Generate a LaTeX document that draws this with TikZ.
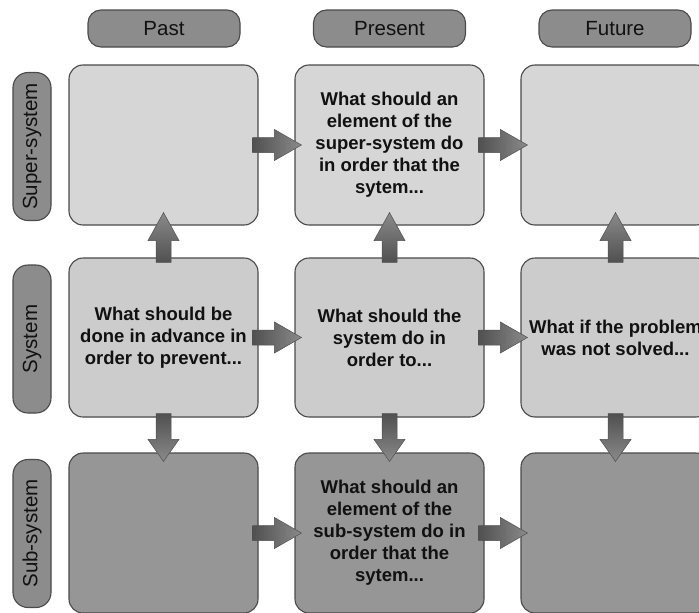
\documentclass[tikz,border=0pt]{standalone}
\usepackage{fontspec}
\setmainfont{Liberation Sans}
\usetikzlibrary{calc}
\definecolor{rowA}{HTML}{D6D6D6}
\definecolor{rowB}{HTML}{CCCCCC}
\definecolor{rowC}{HTML}{969696}
\definecolor{pill}{HTML}{8C8C8C}
\definecolor{edge}{HTML}{4A4A4A}
\definecolor{arrdark}{HTML}{505050}
\definecolor{arrlite}{HTML}{8A8A8A}
\definecolor{ink}{HTML}{111111}
\tikzset{
  cell/.style={draw=edge, line width=1.1pt, rounded corners=14pt, minimum width=189pt, minimum height=160pt, align=center, text=ink, font=\fontsize{18.5}{22}\selectfont\bfseries},
  head/.style={draw=edge, line width=1.1pt, fill=pill, rounded corners=13pt, minimum width=152pt, minimum height=37pt, text=ink, font=\fontsize{20.5}{24}\selectfont},
  side/.style={draw=edge, line width=1.1pt, fill=pill, rounded corners=15pt, minimum width=148pt, minimum height=38pt, rotate=90, text=ink, font=\fontsize{20.5}{24}\selectfont},
  blk/.style={draw=arrdark, line width=0.5pt}
}
\newcommand\harr[2]{\path[blk, left color=arrdark, right color=arrlite] let \p1=(#1.east), \p2=(#2.west) in
  (\x1-6pt,\y1+7.5pt) -- (\x2-20pt,\y1+7.5pt) -- (\x2-20pt,\y1+15.5pt) -- (\x2+7pt,\y1) -- (\x2-20pt,\y1-15.5pt) -- (\x2-20pt,\y1-7.5pt) -- (\x1-6pt,\y1-7.5pt) -- cycle;}
\newcommand\uarr[2]{\path[blk, bottom color=arrdark, top color=arrlite] let \p1=(#1.north), \p2=(#2.south) in
  (\x1-7.5pt,\y1-5pt) -- (\x1-7.5pt,\y2-15pt) -- (\x1-15.5pt,\y2-15pt) -- (\x1,\y2+13pt) -- (\x1+15.5pt,\y2-15pt) -- (\x1+7.5pt,\y2-15pt) -- (\x1+7.5pt,\y1-5pt) -- cycle;}
\newcommand\darr[2]{\path[blk, top color=arrdark, bottom color=arrlite] let \p1=(#1.south), \p2=(#2.north) in
  (\x1-7.5pt,\y1+4pt) -- (\x1-7.5pt,\y2+13pt) -- (\x1-15.5pt,\y2+13pt) -- (\x1,\y2-9pt) -- (\x1+15.5pt,\y2+13pt) -- (\x1+7.5pt,\y2+13pt) -- (\x1+7.5pt,\y1+4pt) -- cycle;}
\begin{document}
\begin{tikzpicture}[x=1pt,y=1pt]
\useasboundingbox (0,0) rectangle (699,-613);
\clip (0,0) rectangle (699,-613);
\fill[white] (0,0) rectangle (699,-613);
% headers
\node[head] (hp) at (164,-28.5) {Past};
\node[head] (hn) at (389.5,-28.5) {Present};
\node[head] (hf) at (615,-28.5) {Future};
% side labels
\node[side] (s1) at (32,-146.5) {Super-system};
\node[side] (s2) at (32,-339) {System};
\node[side] (s3) at (32,-533.5) {Sub-system};
% cells
\node[cell, fill=rowA] (a1) at (163.5,-145) {};
\node[cell, fill=rowA] (a2) at (389.5,-145) {What should an\\element of the\\super-system do\\in order that the\\sytem...};
\node[cell, fill=rowA] (a3) at (615.5,-145) {};
\node[cell, fill=rowB, minimum height=159pt] (b1) at (163.5,-337.5) {What should be\\done in advance in\\order to prevent...};
\node[cell, fill=rowB, minimum height=159pt] (b2) at (389.5,-337.5) {What should the\\system do in\\order to...};
\node[cell, fill=rowB, minimum height=159pt] (b3) at (615.5,-337.5) {What if the problem\\was not solved...};
\node[cell, fill=rowC] (c1) at (163.5,-533) {};
\node[cell, fill=rowC] (c2) at (389.5,-533) {What should an\\element of the\\sub-system do in\\order that the\\sytem...};
\node[cell, fill=rowC] (c3) at (615.5,-533) {};
% arrows
\harr{a1}{a2}\harr{a2}{a3}
\harr{b1}{b2}\harr{b2}{b3}
\harr{c1}{c2}\harr{c2}{c3}
\uarr{b1}{a1}\uarr{b2}{a2}\uarr{b3}{a3}
\darr{b1}{c1}\darr{b2}{c2}\darr{b3}{c3}
\end{tikzpicture}
\end{document}
